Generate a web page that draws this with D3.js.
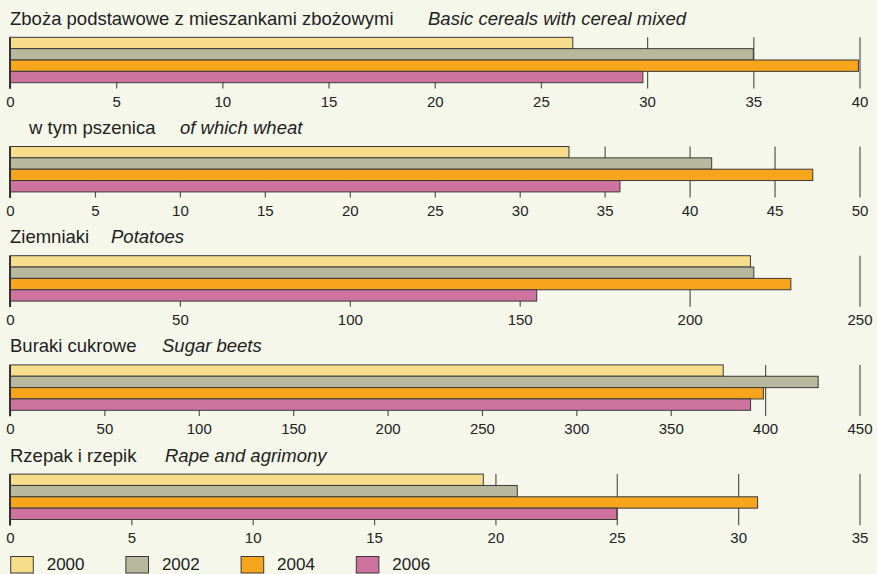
<!DOCTYPE html>
<html>
<head>
<meta charset="utf-8">
<script src="https://cdn.jsdelivr.net/npm/d3@7"></script>
<style>
  body { margin: 0; background: #f6f7eb; }
  svg { display: block; font-family: "Liberation Sans", Arial, sans-serif; }
  .tick text { font-size: 15px; fill: #222; }
</style>
</head>
<body>
<script>
// categories (Polish / English)
var titlesPl = ["Zboża podstawowe z mieszankami zbożowymi", "w tym pszenica", "Ziemniaki", "Buraki cukrowe", "Rzepak i rzepik"];
var titlesEn = ["Basic cereals with cereal mixed", "of which wheat", "Potatoes", "Sugar beets", "Rape and agrimony"];
var years = ["2000", "2002", "2004", "2006"];

// values per year for each crop
var v2000 = [26.5, 32.9, 217.9, 377.8, 19.5];
var v2002 = [35.0, 41.3, 218.9, 428.1, 20.9];
var v2004 = [39.95, 47.25, 229.8, 399.1, 30.8];
var v2006 = [29.8, 35.9, 155.0, 392.3, 25.0];

// axis tick labels
var ticks1 = [0, 5, 10, 15, 20, 25, 30, 35, 40];
var ticks2 = [0, 5, 10, 15, 20, 25, 30, 35, 40, 45, 50];
var ticks3 = [0, 50, 100, 150, 200, 250];
var ticks4 = [0, 50, 100, 150, 200, 250, 300, 350, 400, 450];
var ticks5 = [0, 5, 10, 15, 20, 25, 30, 35];
var tickSets = [ticks1, ticks2, ticks3, ticks4, ticks5];

var colors = ["#f6dc8b", "#b8b89d", "#f7a51d", "#cd739d"];

var W = 877, H = 574;
var left = 10, right = 859.5;
var panelStep = 109.2, firstTop = 37.3, barsH = 45.4;
var titleX = [10, 29, 10, 10, 10];
var enX = [428, 180, 111, 162, 165];

var svg = d3.select("body").append("svg")
    .attr("width", W).attr("height", H);

svg.append("rect").attr("width", W).attr("height", H).attr("fill", "#f6f7eb");

var yBand = d3.scaleBand().domain(years).range([0, barsH]).padding(0);

titlesPl.forEach(function(t, i) {
  var top = firstTop + i * panelStep;
  var tv = tickSets[i];
  var x = d3.scaleLinear().domain([0, tv[tv.length - 1]]).range([left, right]);
  var g = svg.append("g").attr("transform", "translate(0," + top + ")");

  // titles
  g.append("text")
      .attr("x", titleX[i])
      .attr("y", -12.5)
      .attr("font-size", "18.5px")
      .attr("fill", "#222")
      .text(t);
  g.append("text")
      .attr("x", enX[i])
      .attr("y", -12.5)
      .attr("font-size", "18.5px")
      .attr("font-style", "italic")
      .attr("fill", "#222")
      .text(titlesEn[i]);

  // axis with gridlines running up behind the bars
  var axis = d3.axisBottom(x)
      .tickValues(tv)
      .tickSizeInner(-(barsH + 5.7))
      .tickSizeOuter(0)
      .tickPadding(7.5)
      .tickFormat(d3.format("d"));
  var ag = g.append("g")
      .attr("transform", "translate(0," + (barsH + 5.7) + ")")
      .call(axis);
  ag.select(".domain").remove();
  ag.selectAll(".tick line").attr("stroke", "#555").attr("stroke-width", 1.2);

  var vals = [v2000[i], v2002[i], v2004[i], v2006[i]];
  g.selectAll("rect.bar")
    .data(vals)
    .enter().append("rect")
      .attr("class", "bar")
      .attr("x", x(0))
      .attr("y", function(d, j) { return yBand(years[j]); })
      .attr("width", function(d) { return x(d) - x(0); })
      .attr("height", yBand.bandwidth())
      .attr("fill", function(d, j) { return colors[j]; })
      .attr("stroke", "#3a3a3a")
      .attr("stroke-width", 1);

  // zero line
  g.append("line")
    .attr("x1", x(0)).attr("x2", x(0))
    .attr("y1", 0).attr("y2", barsH + 6)
    .attr("stroke", "#333").attr("stroke-width", 2);
});

// legend
var legend = svg.append("g").attr("transform", "translate(0,556.5)");
var items = legend.selectAll("g").data(years).enter().append("g")
    .attr("transform", function(d, j) { return "translate(" + (10.7 + j * 115.2) + ",0)"; });
items.append("rect")
    .attr("width", 22.6).attr("height", 16.5)
    .attr("fill", function(d, j) { return colors[j]; })
    .attr("stroke", "#3a3a3a");
items.append("text")
    .attr("x", 36)
    .attr("y", 13.5)
    .attr("font-size", "17px")
    .attr("fill", "#222")
    .text(function(d) { return d; });
</script>
</body>
</html>
